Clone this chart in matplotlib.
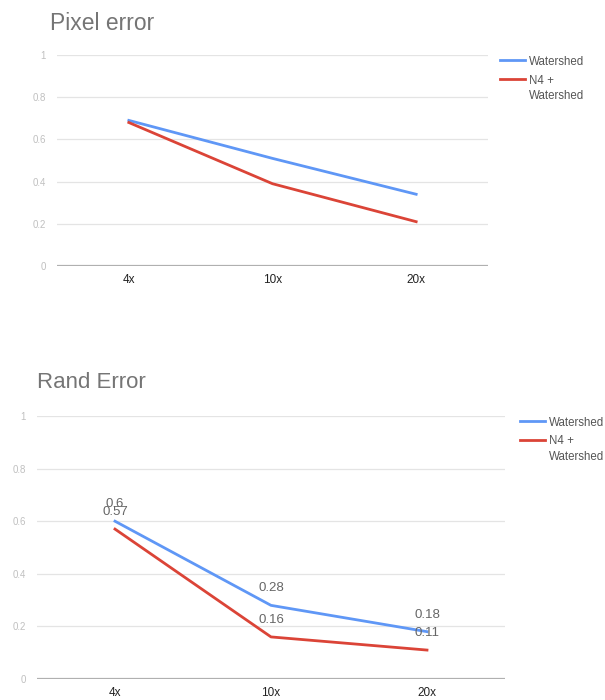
import matplotlib
matplotlib.use("Agg")
import matplotlib.pyplot as plt
from matplotlib.lines import Line2D

plt.rcParams["font.family"] = ["Liberation Sans", "DejaVu Sans"]

# data
magnifications = ["4x", "10x", "20x"]
series_names = ["Watershed", "N4 +\nWatershed"]
pixel_watershed = [0.69, 0.51, 0.34]
pixel_n4 = [0.68, 0.39, 0.21]
rand_watershed = [0.6, 0.28, 0.18]
rand_n4 = [0.57, 0.16, 0.11]
y_ticks = [0, 0.2, 0.4, 0.6, 0.8, 1]
y_tick_labels = ["0", "0.2", "0.4", "0.6", "0.8", "1"]

BLUE = "#5f97f6"
RED = "#db4437"
W, H = 605, 700


def px_axes(fig, left, top, right, bottom):
    return fig.add_axes([left / W, 1 - bottom / H, (right - left) / W, (bottom - top) / H])


def style_axes(ax):
    ax.set_xlim(-0.5, 2.5)
    ax.set_ylim(0, 1)
    ax.set_yticks(y_ticks)
    ax.set_yticklabels(y_tick_labels)
    ax.set_xticks(range(len(magnifications)))
    ax.set_xticklabels(magnifications)
    for s in ax.spines.values():
        s.set_visible(False)
    ax.grid(axis="y", color="#e4e4e4", linewidth=0.9)
    ax.axhline(0, color="#b0b0b0", linewidth=1.6, zorder=2)
    ax.tick_params(axis="y", length=0, labelsize=7, labelcolor="#c0c0c0", pad=8)
    ax.tick_params(axis="x", length=0, labelsize=8.5, labelcolor="#222222", pad=6)
    ax.set_axisbelow(True)


def add_legend(x, y, colors):
    # legend drawn by hand so the key sits beside the first line of each label
    row = 0
    for name, c in zip(series_names, colors):
        yy = y + row * 18.5
        fig.add_artist(Line2D([x / W, (x + 25) / W], [1 - yy / H, 1 - yy / H],
                              color=c, linewidth=2, transform=fig.transFigure))
        fig.text((x + 29) / W, 1 - (yy - 4) / H, name, fontsize=8.3, color="#555555",
                 va="top", linespacing=1.35)
        row += 1


fig = plt.figure(figsize=(W / 100, H / 100), dpi=100)

# Pixel error
ax1 = px_axes(fig, 57, 55, 488, 266)
style_axes(ax1)
ax1.plot(range(3), pixel_watershed, color=BLUE, linewidth=2)
ax1.plot(range(3), pixel_n4, color=RED, linewidth=2)
fig.text(50 / W, 1 - 23 / H, "Pixel error", fontsize=16.5, color="#757575", va="center")
add_legend(500, 60, [BLUE, RED])

# Rand error
ax2 = px_axes(fig, 37, 416, 505, 679)
style_axes(ax2)
ax2.plot(range(3), rand_watershed, color=BLUE, linewidth=2)
ax2.plot(range(3), rand_n4, color=RED, linewidth=2)
for vals in (rand_watershed, rand_n4):
    for i, v in enumerate(vals):
        ax2.annotate(f"{v:g}", (i, v), xytext=(0, 8), textcoords="offset points",
                     ha="center", va="bottom", fontsize=9.5, color="#666666")
fig.text(37 / W, 1 - 383 / H, "Rand Error", fontsize=16, color="#757575", va="center")
add_legend(520, 421, [BLUE, RED])

fig.savefig("out.png", dpi=100)
